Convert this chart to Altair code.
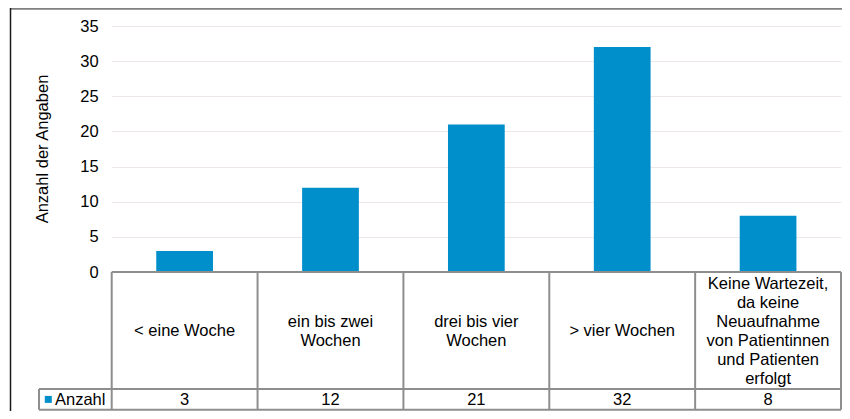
import altair as alt
import pandas as pd

# ---- data ----
categories = [
    "< eine Woche",
    "ein bis zwei Wochen",
    "drei bis vier Wochen",
    "> vier Wochen",
    "Keine Wartezeit, da keine Neuaufnahme von Patientinnen und Patienten erfolgt",
]
cat_labels = [
    "< eine Woche",
    "ein bis zwei\nWochen",
    "drei bis vier\nWochen",
    "> vier Wochen",
    "Keine Wartezeit,\nda keine\nNeuaufnahme\nvon Patientinnen\nund Patienten\nerfolgt",
]
values = [3, 12, 21, 32, 8]
series_name = "Anzahl"
y_ticks = [0, 5, 10, 15, 20, 25, 30, 35]
y_title = "Anzahl der Angaben"

# ---- styling / layout ----
BLUE = "#008FCB"
LINE = "#8E8E8E"
FONT = "Liberation Sans"
FS = 16.5
LH = 19
PAD_L, PAD_T, PAD_R, PAD_B = 103.7, 18, 1, 139
W = 729.3
H = 246
ROW1_BOTTOM = 363
ROW2_BOTTOM = 383.8
LEG_LEFT = -72.7

df = pd.DataFrame({
    "cat": categories,
    "label": cat_labels,
    "value": values,
    "series": [series_name] * len(values),
})
one = pd.DataFrame({"a": [0]})
ser = pd.DataFrame({"series": [series_name]})

xenc = dict(sort=categories, scale=alt.Scale(paddingInner=0, paddingOuter=0), axis=None)

bars = alt.Chart(df).mark_bar(width={"band": 0.389}, color=BLUE).encode(
    x=alt.X("cat:N", **xenc),
    y=alt.Y(
        "value:Q",
        scale=alt.Scale(domain=[0, 35], nice=False),
        axis=alt.Axis(
            values=y_ticks,
            title=y_title,
            grid=True,
            gridColor="#EEE7E7",
            gridWidth=1,
            domain=False,
            ticks=False,
            labelFont=FONT,
            labelFontSize=FS,
            labelColor="#000000",
            labelPadding=13.5,
            titleFont=FONT,
            titleFontSize=FS,
            titleFontWeight="normal",
            titleColor="#000000",
            titleAngle=270,
            titleAlign="center",
            titleBaseline="alphabetic",
            titleX=-64.7,
            titleY=122.5,
        ),
    ),
)

def hrule(y, x0):
    return alt.Chart(one).mark_rule(color=LINE, strokeWidth=2).encode(
        x=alt.value(x0), x2=alt.value(W), y=alt.value(y)
    )

top_line = hrule(H, 0)
mid_line = hrule(ROW1_BOTTOM, LEG_LEFT)
bot_line = hrule(ROW2_BOTTOM, LEG_LEFT)
legend_left = alt.Chart(one).mark_rule(color=LINE, strokeWidth=2).encode(
    x=alt.value(LEG_LEFT), y=alt.value(ROW1_BOTTOM), y2=alt.value(ROW2_BOTTOM)
)
vlines = alt.Chart(df).mark_rule(color=LINE, strokeWidth=2).encode(
    x=alt.X("cat:N", bandPosition=0, **xenc),
    y=alt.value(H), y2=alt.value(ROW2_BOTTOM),
)
vlast = alt.Chart(df.iloc[[-1]]).mark_rule(color=LINE, strokeWidth=2).encode(
    x=alt.X("cat:N", bandPosition=1, **xenc),
    y=alt.value(H), y2=alt.value(ROW2_BOTTOM),
)

row1_center = (H + ROW1_BOTTOM) / 2 + 0.9
cat_text = alt.Chart(df).transform_calculate(
    ty=f"{row1_center} - (length(split(datum.label, '\\n')) - 1) * {LH / 2}"
).mark_text(
    font=FONT, fontSize=FS, lineBreak="\n", lineHeight=LH,
    baseline="middle", align="center", color="#000000",
).encode(
    x=alt.X("cat:N", **xenc),
    y=alt.Y("ty:Q", scale=None),
    text="label:N",
)

row2_base = (ROW1_BOTTOM + ROW2_BOTTOM) / 2 + 6
val_text = alt.Chart(df).mark_text(
    font=FONT, fontSize=FS, baseline="alphabetic", align="center", color="#000000",
).encode(
    x=alt.X("cat:N", **xenc),
    y=alt.value(row2_base),
    text="value:Q",
)

# legend key inside the data table
leg_sym = alt.Chart(ser).mark_square(size=49, color=BLUE, opacity=1).encode(
    x=alt.value(-63.4), y=alt.value((ROW1_BOTTOM + ROW2_BOTTOM) / 2)
)
leg_txt = alt.Chart(ser).mark_text(
    font=FONT, fontSize=FS, baseline="alphabetic", align="left", color="#000000"
).encode(
    x=alt.value(-56.7), y=alt.value(row2_base), text="series:N"
)

# outer frame (top and left edges visible in the reference)
frame_top = alt.Chart(one).mark_rule(color="#808080", strokeWidth=1.8).encode(
    x=alt.value(-101.2), x2=alt.value(W + PAD_R), y=alt.value(-17.1)
)
frame_left = alt.Chart(one).mark_rule(color="#1A1A1A", strokeWidth=1.5).encode(
    x=alt.value(-101.2), y=alt.value(-18), y2=alt.value(H + PAD_B)
)

chart = alt.layer(
    bars, top_line, mid_line, bot_line, legend_left, vlines, vlast,
    cat_text, val_text, leg_sym, leg_txt, frame_top, frame_left,
).properties(
    width=W,
    height=H,
    autosize=alt.AutoSizeParams(type="none"),
    padding={"left": PAD_L, "top": PAD_T, "right": PAD_R, "bottom": PAD_B},
    background="white",
).configure_view(stroke=None)

chart.save("out.html", embed_options={"renderer": "svg", "actions": False})
